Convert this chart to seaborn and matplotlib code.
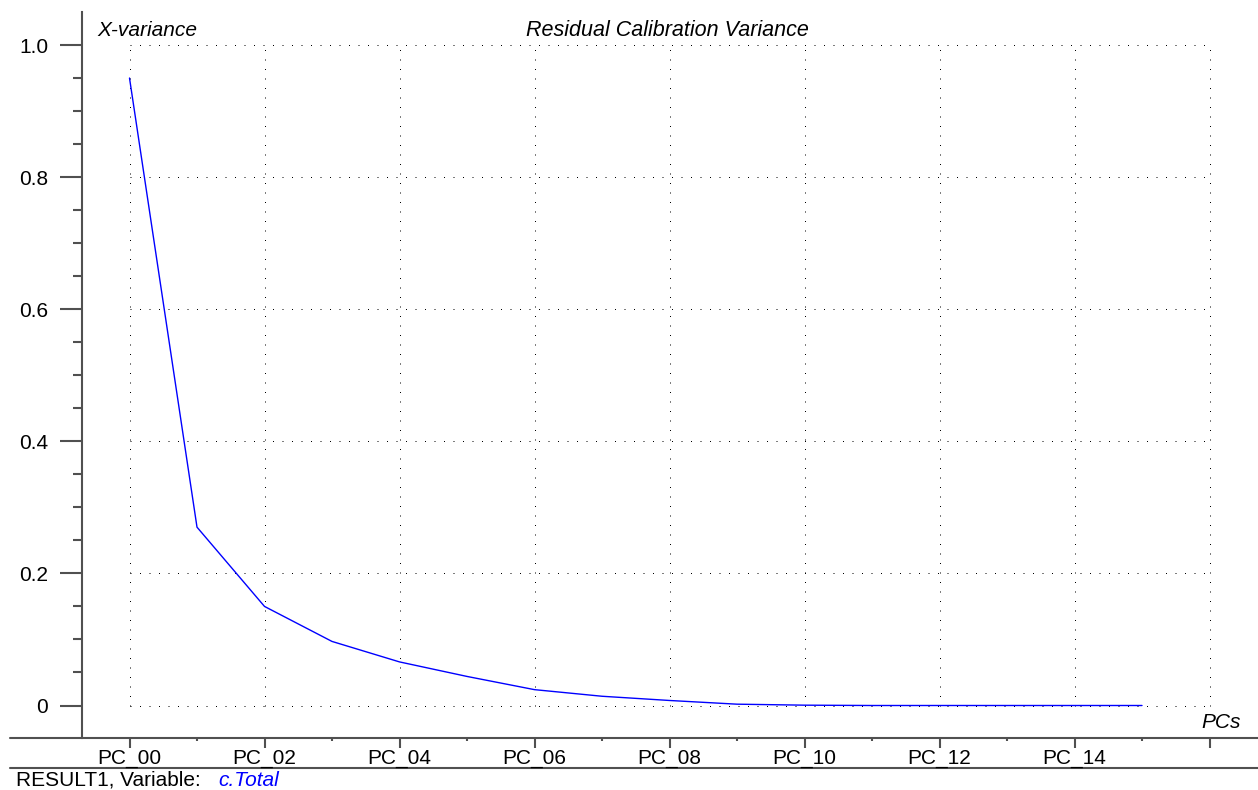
import matplotlib
matplotlib.use("Agg")
import matplotlib.pyplot as plt
from matplotlib.lines import Line2D
from matplotlib.ticker import FixedLocator
import seaborn as sns
import pandas as pd
import numpy as np

# ---- data ----
pcs = [f"PC_{i:02d}" for i in range(16)]
variance = [0.95, 0.27, 0.15, 0.097, 0.066, 0.044, 0.024, 0.014,
            0.0076, 0.002, 0.0005, 0.0, 0.0, 0.0, 0.0, 0.0]
tick_labels = ["PC_00", "PC_02", "PC_04", "PC_06", "PC_08", "PC_10",
               "PC_12", "PC_14", ""]
y_ticks = [0, 0.2, 0.4, 0.6, 0.8, 1.0]
y_tick_labels = ["0", "0.2", "0.4", "0.6", "0.8", "1.0"]

df = pd.DataFrame({"PC": pcs, "variance": variance})

sns.set_theme(style="white")
plt.rcParams['font.family'] = ['Liberation Sans', 'DejaVu Sans']

W, H = 1258, 790
fig = plt.figure(figsize=(W / 100, H / 100), dpi=100)
ax = fig.add_axes([82 / W, 1 - 738 / H, 1 - 82 / W, (738 - 12) / H])
ax.patch.set_visible(False)

# grid (dotted, only inside the data frame)
dot = (0, (1, 8.5))
ax.vlines(np.arange(0, 17, 2), 0, 1.0, colors="black", linestyles=dot,
          linewidth=0.72, zorder=1)
ax.hlines(y_ticks, 0, 16, colors="black", linestyles=dot,
          linewidth=0.72, zorder=1)

sns.lineplot(data=df, x="PC", y="variance", ax=ax, color="#0000ff",
             linewidth=1.0, zorder=3, sort=False)

# limits: px mapping  x: PC_00 at 129.5, 67.5 px/unit; y: 0 at 705.5, 660.5 px/unit
ax.set_xlim((82 - 129.5) / 67.5, (1258 - 129.5) / 67.5)
ax.set_ylim(-(738 - 705.5) / 660.5, (705.5 - 12) / 660.5)

ax.xaxis.set_major_locator(FixedLocator(np.arange(0, 17, 2)))
ax.set_xticklabels(tick_labels)
ax.xaxis.set_minor_locator(FixedLocator(np.arange(1, 16, 2)))
ax.set_yticks(y_ticks)
ax.set_yticklabels(y_tick_labels)
ax.yaxis.set_minor_locator(FixedLocator(np.arange(0, 1.001, 0.05)))

spine_c = "#505050"
for s in ["top", "right"]:
    ax.spines[s].set_visible(False)
ax.spines["bottom"].set_visible(False)
ax.spines["left"].set_color(spine_c)
ax.spines["left"].set_linewidth(1.5)

ax.tick_params(axis="y", which="major", direction="out", length=15.8,
               width=1.5, color=spine_c, pad=8.5, labelsize=15,
               labelcolor="black", left=True)
ax.tick_params(axis="y", which="minor", direction="out", length=6.5,
               width=1.5, color=spine_c, left=True)
ax.tick_params(axis="x", which="major", direction="out", length=7.2,
               width=1.5, color=spine_c, pad=0.5, labelsize=15,
               labelcolor="black", bottom=True)
ax.tick_params(axis="x", which="minor", direction="out", length=2.2,
               width=1.5, color=spine_c, bottom=True)

ax.set_xlabel("")
ax.set_ylabel("")
ax.grid(False)

# horizontal full-width lines (behind the labels)
fig.add_artist(Line2D([10 / W, 1], [1 - 738 / H, 1 - 738 / H],
                      transform=fig.transFigure, color=spine_c,
                      linewidth=1.5, zorder=-1))
fig.add_artist(Line2D([10 / W, 1], [1 - 768 / H, 1 - 768 / H],
                      transform=fig.transFigure, color=spine_c,
                      linewidth=1.5, zorder=-1))

# texts
fig.text(97 / W, 1 - 31 / H, "X-variance", fontsize=15, style="italic",
         ha="left", va="center", color="black")
fig.text(667 / W, 1 - 31 / H, "Residual Calibration Variance", fontsize=15.5,
         style="italic", ha="center", va="center", color="black")
fig.text(1221 / W, 1 - 723 / H, "PCs", fontsize=15, style="italic",
         ha="center", va="center", color="black")
fig.text(16 / W, 1 - 780 / H, "RESULT1, Variable:", fontsize=15,
         ha="left", va="center", color="black")
fig.text(218 / W, 1 - 780 / H, "c.Total", fontsize=15, style="italic",
         ha="left", va="center", color="#0000ff")

fig.savefig("out.png", dpi=100, facecolor="white")
